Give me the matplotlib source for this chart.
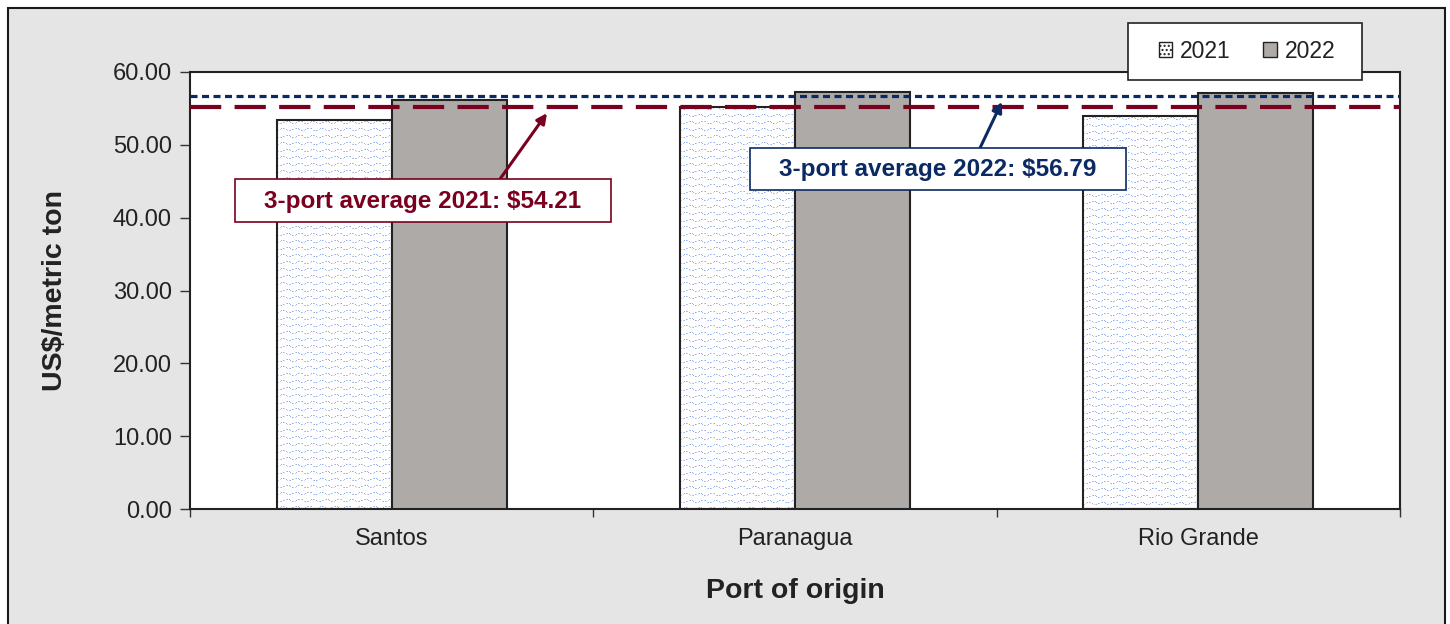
import matplotlib
matplotlib.use("Agg")
import matplotlib.pyplot as plt
from matplotlib.patches import Rectangle, Patch
import numpy as np

ports = ["Santos", "Paranagua", "Rio Grande"]
vals_2021 = [53.4, 55.2, 53.9]
vals_2022 = [56.1, 57.3, 57.1]
avg_line_2021 = 55.15
avg_line_2022 = 56.7
label_2021 = "3-port average 2021: $54.21"
label_2022 = "3-port average 2022: $56.79"
yticks = [0, 10, 20, 30, 40, 50, 60]

RED = "#7a0020"
BLUE = "#0b2a64"
GRAY = "#aeaaa8"
TXT = "#222222"
HATCHC = np.array([0x96, 0xb0, 0xe8]) / 255.0
HATCHC2 = np.array([0xc4, 0xd3, 0xf3]) / 255.0

W, H = 1450, 624
def fx(px): return px / W
def fy(py): return 1 - py / H

plt.rcParams["font.family"] = ["Liberation Sans", "DejaVu Sans"]
plt.rcParams["hatch.linewidth"] = 1.0
plt.rcParams["hatch.color"] = "#7f9ad8"

fig = plt.figure(figsize=(14.5, 6.24), dpi=100)
fig.patches.append(Rectangle((fx(8), -0.05), fx(1445) - fx(8), 1.05 - 8/H,
                             transform=fig.transFigure, facecolor="#e5e5e5",
                             edgecolor="#1a1a1a", linewidth=1.5, zorder=-10))

ax = fig.add_axes([fx(190), fy(509), fx(1400) - fx(190), (509 - 72) / H])
ax.set_facecolor("white")
ax.set_xlim(-0.5, 2.5)
ax.set_ylim(0, 60)

def wave_texture(wpx, hpx):
    img = np.ones((hpx, wpx, 3))
    for r0 in range(2, hpx, 7):
        off = (r0 // 7) % 2 * 4
        for c in range(wpx):
            ph = (c + off) % 13
            dy = int(round(1.4 * np.sin(2 * np.pi * ph / 13.0)))
            r = r0 + dy
            if 0 <= r < hpx and (c % 3 != 2):
                img[r, c] = HATCHC if ph % 2 == 0 else HATCHC2
    return img

x = np.arange(len(ports))
w = 0.285
bars21 = ax.bar(x - w/2, vals_2021, w, color="white", linewidth=0, zorder=2)
for b in bars21:
    x0, y0, bw, bh = b.get_x(), b.get_y(), b.get_width(), b.get_height()
    p0 = ax.transData.transform((x0, y0))
    p1 = ax.transData.transform((x0 + bw, y0 + bh))
    wpx = int(round(abs(p1[0] - p0[0])))
    hpx = int(round(abs(p1[1] - p0[1])))
    im = ax.imshow(wave_texture(wpx, hpx), extent=(x0, x0 + bw, y0, y0 + bh),
                   origin="upper", interpolation="nearest", aspect="auto", zorder=2.5)
    im.set_clip_path(b)
ax.bar(x - w/2, vals_2021, w, fill=False, edgecolor="#222222", linewidth=1.5, zorder=3)
ax.bar(x + w/2, vals_2022, w, color=GRAY, edgecolor="#222222", linewidth=1.5, zorder=3)

ax.axhline(avg_line_2022, color=BLUE, lw=2.3, dashes=(2.2, 1.4), zorder=4)
ax.axhline(avg_line_2021, color=RED, lw=3.0, dashes=(7.5, 3.2), zorder=4)

ax.set_xlim(-0.5, 2.5)
ax.set_ylim(0, 60)
ax.set_yticks(yticks)
ax.set_yticklabels([f"{v:.2f}" for v in yticks], fontsize=17, color=TXT)
ax.set_xticks(x)
ax.set_xticklabels(ports, fontsize=17, color=TXT)
ax.tick_params(axis="x", length=0, pad=14)
ax.set_xticks([-0.5, 0.5, 1.5, 2.5], minor=True)
ax.tick_params(axis="x", which="minor", length=6, width=1, direction="out", color="#333333")
ax.tick_params(axis="y", length=7, width=1, direction="out", pad=6, color="#333333")
for s in ax.spines.values():
    s.set_linewidth(1.5)
    s.set_color("#222222")

ax.set_ylabel("US$/metric ton", fontsize=20.5, fontweight="bold", labelpad=32, color=TXT)
ax.set_xlabel("Port of origin", fontsize=20.5, fontweight="bold", labelpad=20, color=TXT)

# annotation boxes and arrows
def callout(text, color, box, start, tip):
    x0, y0, x1, y1 = box
    fig.patches.append(Rectangle((fx(x0), fy(y1)), fx(x1) - fx(x0), fy(y0) - fy(y1),
                                 transform=fig.transFigure, facecolor="white",
                                 edgecolor=color, linewidth=1.2, zorder=6))
    fig.text(fx((x0 + x1) / 2), fy((y0 + y1) / 2 + 1), text, fontsize=17.5,
             fontweight="bold", color=color, ha="center", va="center", zorder=7)
    ax.annotate("", xy=tip, xycoords="data", xytext=(fx(start[0]), fy(start[1])),
                textcoords="figure fraction",
                arrowprops=dict(arrowstyle="-|>", color=color, lw=2.2, mutation_scale=15,
                                shrinkA=0, shrinkB=0), zorder=5)

callout(label_2021, RED, (235, 179, 611, 222), (500, 179), (0.385, 54.35))
callout(label_2022, BLUE, (750, 148, 1126, 190), (980, 148), (1.513, 55.9))

# legend
fig.patches.append(Rectangle((fx(1128), fy(80)), fx(1362) - fx(1128), fy(23) - fy(80),
                             transform=fig.transFigure, facecolor="white",
                             edgecolor="#222222", linewidth=1.2, zorder=8))
handles = [Patch(facecolor="white", edgecolor="#222222", hatch="...."),
           Patch(facecolor=GRAY, edgecolor="#222222")]
leg = fig.legend(handles, ["2021", "2022"], loc="center",
                 bbox_to_anchor=(fx(1247), fy(51)), ncol=2, fontsize=16.5,
                 frameon=False, borderaxespad=0,
                 handlelength=0.6, handleheight=0.6, handletextpad=0.35,
                 columnspacing=1.4, borderpad=0)
for t in leg.get_texts():
    t.set_color(TXT)
leg.set_zorder(10)

fig.savefig("out.png", dpi=100, facecolor="white")
